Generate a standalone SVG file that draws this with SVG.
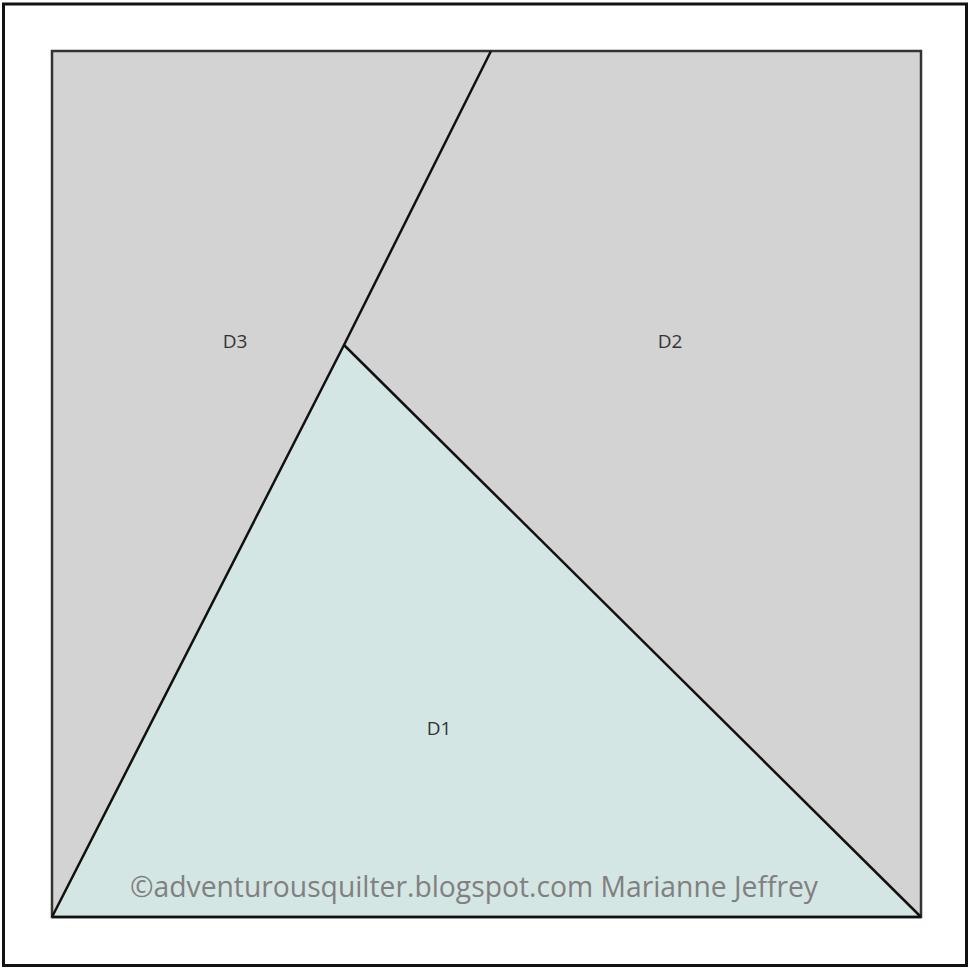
<svg xmlns="http://www.w3.org/2000/svg" width="970" height="968" viewBox="0 0 970 968">
<style>
.lbl{font-family:"Open Sans","Liberation Sans",sans-serif;font-size:19px;fill:#333;text-anchor:middle}
.edge{stroke:#111;stroke-width:2.5;fill:none;stroke-linejoin:miter}
</style>
<rect x="0" y="0" width="970" height="968" fill="#fff"/>
<rect x="3.5" y="4" width="963" height="961.5" fill="#fff" stroke="#111" stroke-width="3"/>
<g id="D3">
<polygon points="52,51 491,51 344,345 52,917" fill="#d3d3d3"/>
<text class="lbl" x="235" y="348">D3</text>
</g>
<g id="D2">
<polygon points="491,51 921,51 921,917 344,345" fill="#d3d3d3"/>
<text class="lbl" x="670" y="348">D2</text>
</g>
<g id="D1">
<polygon points="344,345 921,917 52,917" fill="#d4e6e4"/>
<text class="lbl" x="439" y="735">D1</text>
</g>
<rect x="52" y="51" width="869" height="866" fill="none" stroke="#333" stroke-width="2.5"/>
<g id="connectors">
<polyline class="edge" points="491,51 344,345 52,917"/>
<polyline class="edge" points="344,345 921,917"/>
<line class="edge" x1="52" y1="917" x2="921" y2="917"/>
</g>
<text x="130" y="897" font-family="Open Sans, Liberation Sans, sans-serif" font-size="30" fill="#808080" textLength="688" lengthAdjust="spacingAndGlyphs">©adventurousquilter.blogspot.com Marianne Jeffrey</text>
</svg>
